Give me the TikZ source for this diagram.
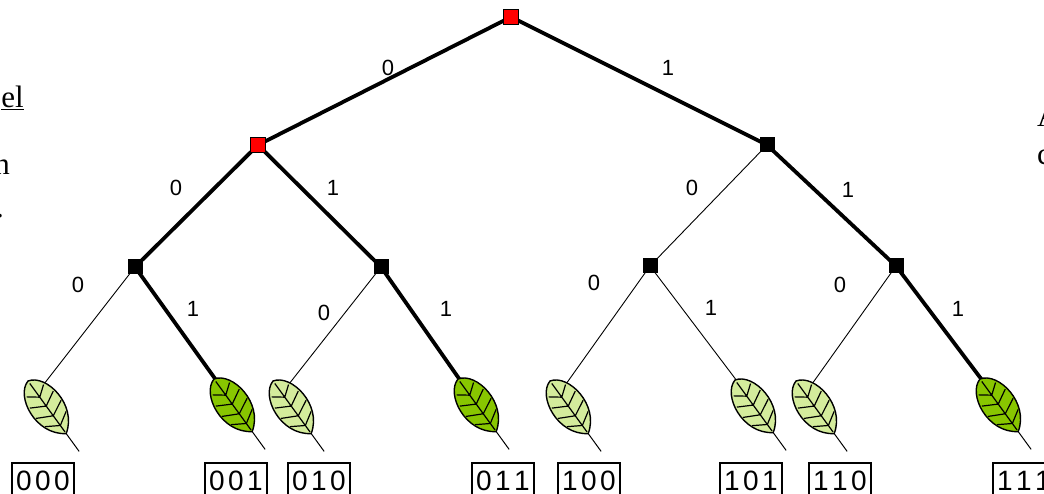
\documentclass[tikz,border=0pt]{standalone}
\usepackage{fontspec}
\setmainfont{Liberation Serif}
\newfontfamily\labfont{Liberation Sans}
\definecolor{leafdark}{RGB}{136,198,0}
\definecolor{leaflight}{RGB}{212,236,156}
\newcommand\dg[1]{\makebox[19pt]{#1}}
\tikzset{
  pics/leaf/.style={code={
    \begin{scope}[rotate=-54]
      \draw[line width=1pt] (62,0) -- (87,0);
      \draw[fill=#1, line width=1.4pt]
        (0,0) .. controls (5,-19) and (48,-26) .. (65,0)
              .. controls (48,26) and (5,19) .. (0,0) -- cycle;
      \draw[line width=1.2pt] (3,0) -- (63,0)
        (20,0) -- (12,-10.5) (20,0) -- (12,10.5)
        (31,0) -- (23,-14.5) (31,0) -- (23,14.5)
        (43,0) -- (35,-15.5) (43,0) -- (35,15.5)
        (55,0) -- (47,-13) (55,0) -- (47,13);
    \end{scope}
  }}
}
\begin{document}
\begin{tikzpicture}[x=1pt,y=-1pt,
  chosen/.style={line width=3.8pt},
  plain/.style={line width=0.9pt},
  rednode/.style={draw=black, line width=0.8pt, fill=red, minimum size=15pt, inner sep=0pt},
  blknode/.style={fill=black, minimum size=15pt, inner sep=0pt},
  bit/.style={font=\labfont\fontsize{22}{22}\selectfont, inner sep=0pt},
  codebox/.style={draw, line width=1.2pt, minimum width=62pt, minimum height=36pt,
    inner sep=0pt, font=\labfont\fontsize{28}{28}\selectfont},
  doc/.style={font=\fontsize{31}{31}\selectfont, inner sep=0pt},
]
\useasboundingbox (0,0) rectangle (1044,494);
\clip (0,0) rectangle (1044,494);

% surrounding page text
\node[doc, anchor=base east] (t1) at (24,108) {\underline{el}};
\node[doc, anchor=base east] (t2) at (10,175) {n};
\node[doc, anchor=base east] (t3) at (4,218) {.};
\node[doc, anchor=base west] (t4) at (1037,127) {A};
\node[doc, anchor=base west] (t5) at (1037,165) {c};

% leaf attachment points
\coordinate (e000) at (44,384);
\coordinate (e001) at (216,380);
\coordinate (e010) at (289,384);
\coordinate (e011) at (460,380);
\coordinate (e100) at (566,384);
\coordinate (e101) at (737,381);
\coordinate (e110) at (812,384);
\coordinate (e111) at (982,380);

% internal nodes
\coordinate (r) at (511,17);
\coordinate (a) at (258,145);
\coordinate (b) at (767,145);
\coordinate (aa) at (135,267);
\coordinate (ab) at (381,267);
\coordinate (ba) at (650,266);
\coordinate (bb) at (896,266);

% edges
\draw[chosen] (r) -- (a);
\draw[chosen] (r) -- (b);
\draw[chosen] (a) -- (aa);
\draw[chosen] (a) -- (ab);
\draw[plain] (b) -- (ba);
\draw[chosen] (b) -- (bb);
\draw[plain] (aa) -- (e000);
\draw[chosen] (aa) -- (e001);
\draw[plain] (ab) -- (e010);
\draw[chosen] (ab) -- (e011);
\draw[plain] (ba) -- (e100);
\draw[plain] (ba) -- (e101);
\draw[plain] (bb) -- (e110);
\draw[chosen] (bb) -- (e111);

\node[rednode] (nr) at (r) {};
\node[rednode] (na) at (a) {};
\node[blknode] (nb) at (b) {};
\node[blknode] (naa) at (aa) {};
\node[blknode] (nab) at (ab) {};
\node[blknode] (nba) at (ba) {};
\node[blknode] (nbb) at (bb) {};

% edge labels
\node[bit] (l1) at (388,68) {0};
\node[bit] (l2) at (668,68) {1};
\node[bit] (l3) at (176,188) {0};
\node[bit] (l4) at (333,188) {1};
\node[bit] (l5) at (692,188) {0};
\node[bit] (l6) at (848,190) {1};
\node[bit] (l7) at (78,285) {0};
\node[bit] (l8) at (193,309) {1};
\node[bit] (l9) at (324,313) {0};
\node[bit] (l10) at (446,309) {1};
\node[bit] (l11) at (594,283) {0};
\node[bit] (l12) at (711,308) {1};
\node[bit] (l13) at (840,285) {0};
\node[bit] (l14) at (958,309) {1};

% leaves
\pic (f000) at (28,381) {leaf=leaflight};
\pic (f001) at (214,379) {leaf=leafdark};
\pic (f010) at (273,381) {leaf=leaflight};
\pic (f011) at (458,379) {leaf=leafdark};
\pic (f100) at (550,381) {leaf=leaflight};
\pic (f101) at (735,380) {leaf=leaflight};
\pic (f110) at (796,381) {leaf=leaflight};
\pic (f111) at (980,379) {leaf=leafdark};

% codewords
\node[codebox] (c000) at (43,481) {\dg0\dg0\dg0};
\node[codebox] (c001) at (236,481) {\dg0\dg0\dg1};
\node[codebox] (c010) at (319,481) {\dg0\dg1\dg0};
\node[codebox] (c011) at (503,481) {\dg0\dg1\dg1};
\node[codebox] (c100) at (589,481) {\dg1\dg0\dg0};
\node[codebox] (c101) at (751,481) {\dg1\dg0\dg1};
\node[codebox] (c110) at (840,481) {\dg1\dg1\dg0};
\node[codebox] (c111) at (1024,481) {\dg1\dg1\dg1};
\end{tikzpicture}
\end{document}
